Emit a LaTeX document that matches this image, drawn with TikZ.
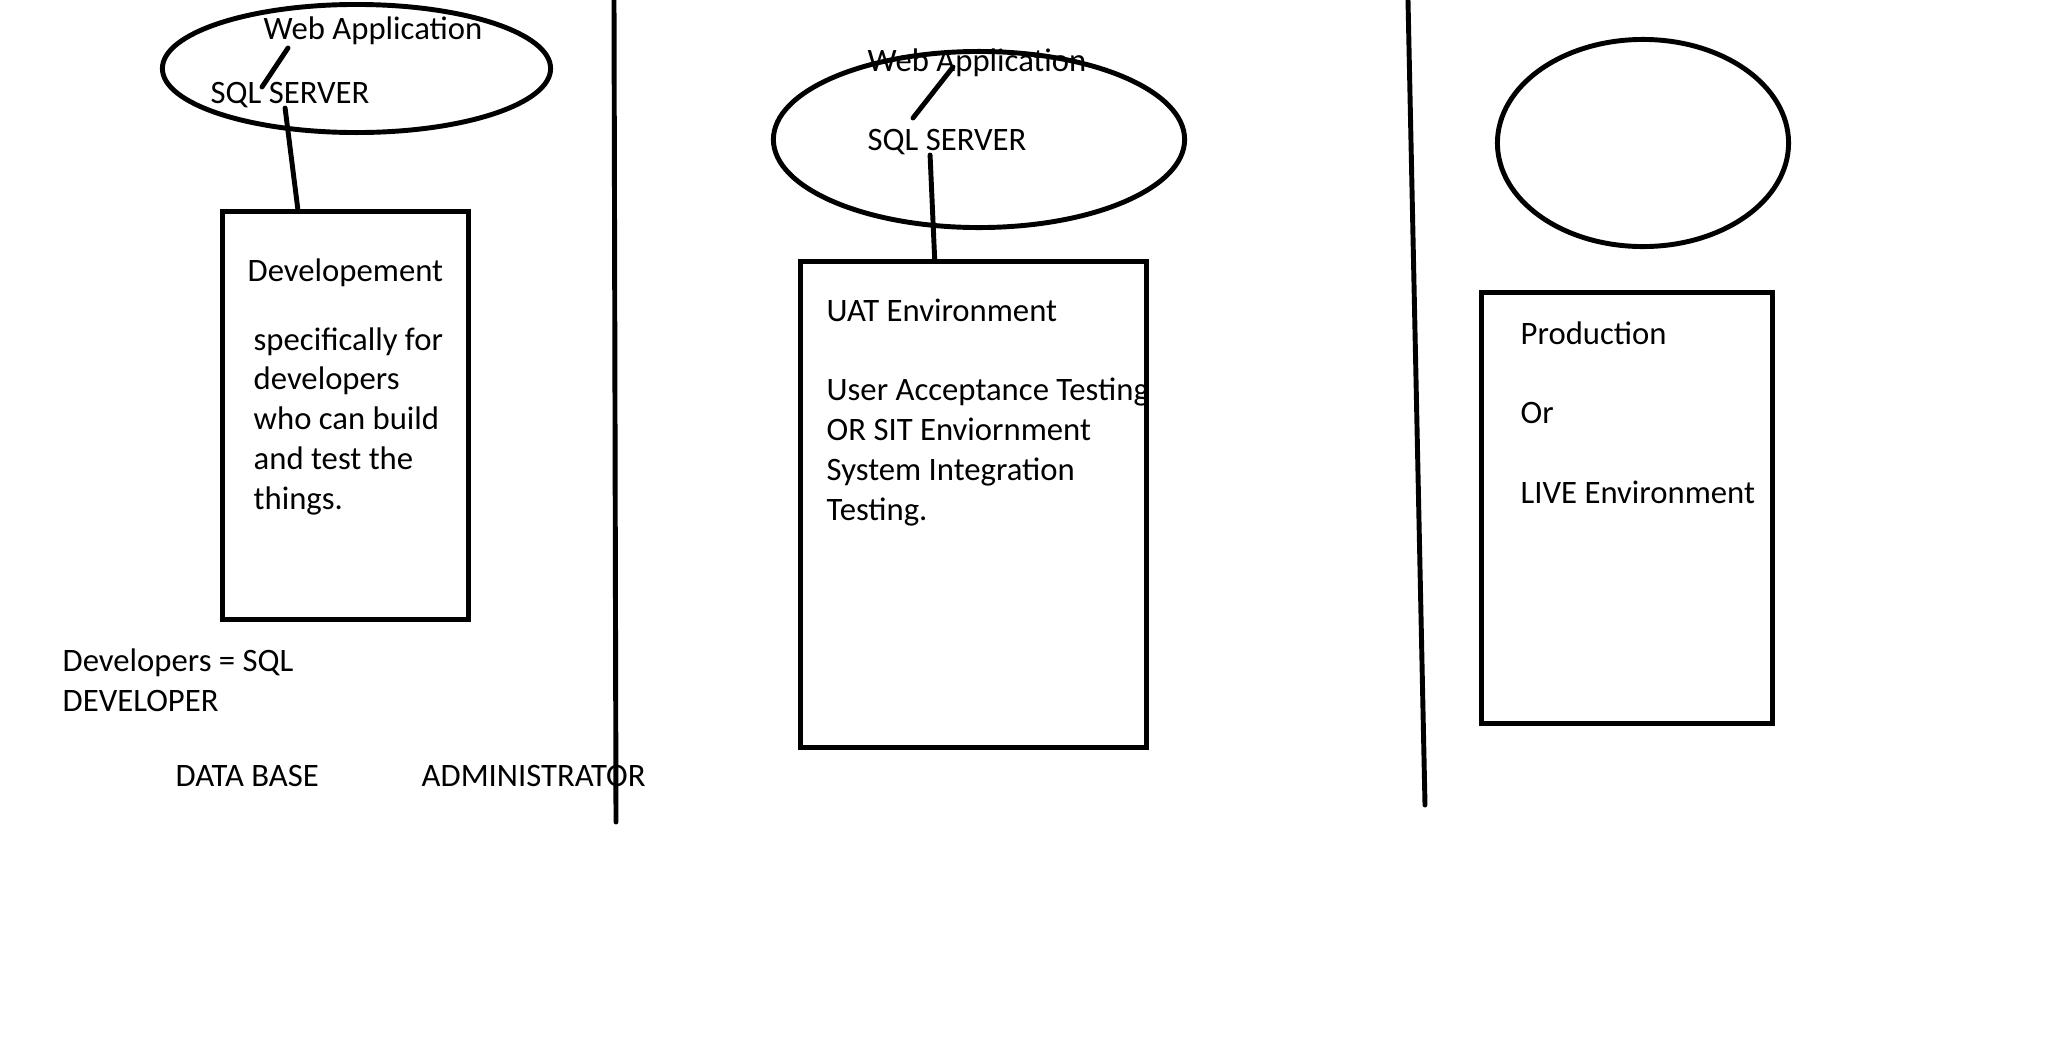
\documentclass[tikz,border=0pt]{standalone}
\usepackage{fontspec}
\setmainfont{Carlito}
\usetikzlibrary{shapes.geometric}

\begin{document}
\begin{tikzpicture}[x=0.01cm, y=-0.01cm,
        wire/.style={line width=1.4pt, line cap=round},
        envbox/.style={draw, line width=1.4pt, inner sep=0pt},
        appcloud/.style={ellipse, draw, line width=1.4pt, inner sep=0pt},
        lbl/.style={anchor=base west, inner sep=0pt, align=left, font=\fontsize{9.3}{11.3}\selectfont}]
        \useasboundingbox (0,0) rectangle (2063,1039);
        
        \node[appcloud, minimum width=3.88cm, minimum height=1.28cm] (cloudA) at (356.5,68.5) {};
        \node[appcloud, minimum width=4.11cm, minimum height=1.76cm] (cloudB) at (979,139.5) {};
        \node[appcloud, minimum width=2.91cm, minimum height=2.07cm] (cloudC) at (1643,143) {};
        
        \node[envbox, minimum width=2.46cm, minimum height=4.08cm] (devbox) at (345.5,415.5) {};
        \node[envbox, minimum width=3.45cm, minimum height=4.85cm] (uatbox) at (973.5,504.5) {};
        \node[envbox, minimum width=2.90cm, minimum height=4.30cm] (prodbox) at (1627,508) {};
        
        \node[lbl] (webA) at (263,39) {Web Application};
        \node[lbl] (sqlA) at (210,103) {SQL SERVER};
        \node[lbl] (webB) at (867,71) {Web Application};
        \node[lbl] (sqlB) at (867,150) {SQL SERVER};
        
        \node[lbl] (devtitle) at (247,281) {Developement};
        \node[lbl] (devtext) at (253,509) {specifically for\\developers\\who can build\\and test the\\things.};
        \node[lbl] (uattext) at (826,520) {UAT Environment\\[11.3pt]User Acceptance Testing\\OR SIT Enviornment\\System Integration\\Testing.};
        \node[lbl] (prodtext) at (1520,503) {Production\\[11.3pt]Or\\[11.3pt]LIVE Environment};
        
        \node[lbl] (sqldev) at (62,711) {Developers = SQL\\DEVELOPER};
        \node[lbl] (dbtext) at (175,786) {DATA BASE};
        \node[lbl] (admtext) at (421,786) {ADMINISTRATOR};
        
        \coordinate (tickA1) at (288,48);
        \coordinate (tickA2) at (262,87);
        \coordinate (tickB1) at (953,67);
        \coordinate (tickB2) at (913,118);
        \coordinate (splitA1) at (614,0);
        \coordinate (splitA2) at (616,822);
        \coordinate (splitB1) at (1408,0);
        \coordinate (splitB2) at (1425,805);
        
        \draw[wire] (tickA1) -- (tickA2);
        \draw[wire] (tickB1) -- (tickB2);
        \draw[wire] ([xshift=-0.05cm]sqlA.south) -- (devbox.103);
        \draw[wire] ([xshift=-0.17cm]sqlB.south) -- (uatbox.99);
        \draw[wire] (splitA1) -- (splitA2);
        \draw[wire] (splitB1) -- (splitB2);
    \end{tikzpicture}
\end{document}
